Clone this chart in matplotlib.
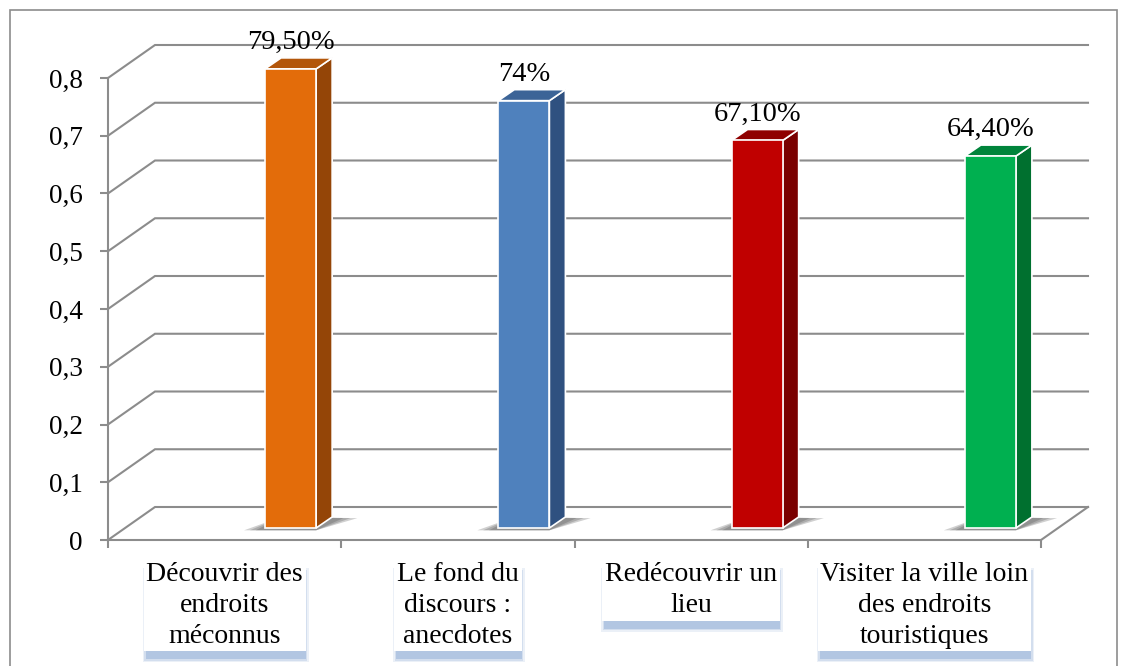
import matplotlib
matplotlib.use("Agg")
import matplotlib.pyplot as plt
from matplotlib.patches import Polygon, Rectangle

categories = ["Découvrir des\nendroits\nméconnus",
              "Le fond du\ndiscours :\nanecdotes",
              "Redécouvrir un\nlieu",
              "Visiter la ville loin\ndes endroits\ntouristiques"]
values = [0.795, 0.74, 0.671, 0.644]
value_labels = ["79,50%", "74%", "67,10%", "64,40%"]
front_colors = ["#E36C0A", "#4F81BD", "#C00000", "#00B050"]
side_colors = ["#944507", "#2F5180", "#7A0000", "#00702F"]
top_colors = ["#B3560A", "#3C6497", "#8F0000", "#00843B"]
yticks = [0, 0.1, 0.2, 0.3, 0.4, 0.5, 0.6, 0.7, 0.8]

plt.rcParams["font.family"] = ["Liberation Serif", "DejaVu Serif"]
grid_color = "#8c8c8c"

W, H = 1126, 666
fig = plt.figure(figsize=(W / 100, H / 100), dpi=100)
ax = fig.add_axes([108 / W, 126 / H, (1041 - 108) / W, 462 / H])
ax.set_xlim(0, 4)
ax.set_ylim(0, 0.8)
ax.patch.set_visible(False)

# pixel -> data scale factors
px_x = 4 / (1041 - 108)
px_y = 0.8 / 462
wall_dx, wall_dy = 47 * px_x, 33 * px_y      # depth of the floor / back wall
bar_dx, bar_dy = 17 * px_x, 12 * px_y        # bar front plane offset
side_dx, side_dy = 16 * px_x, 11 * px_y      # bar depth
bar_w = 0.219
bar_shift = 0.21

# back wall gridlines and left wall diagonals
for v in yticks:
    ax.plot([0, wall_dx, 4 + wall_dx], [v, v + wall_dy, v + wall_dy],
            color=grid_color, lw=1.5, clip_on=False, zorder=1,
            solid_joinstyle="miter")
ax.plot([4, 4 + wall_dx], [0, wall_dy], color=grid_color, lw=1.5,
        clip_on=False, zorder=1)

# bars with fake 3d sides
centers = [i + 0.5 + bar_shift + bar_dx for i in range(len(values))]
for i, v in enumerate(values):
    x0 = centers[i] - bar_w / 2
    x1 = centers[i] + bar_w / 2
    b = bar_dy
    # soft floor shadow, a few stacked layers
    for grow in [0.09, 0.065, 0.04]:
        shadow = Polygon([(x0 - grow, b - 0.004), (x1, b - 0.004),
                          (x1 + side_dx + grow * 1.2, b + side_dy - 0.002),
                          (x0 + side_dx, b + side_dy)],
                         closed=True, fc="#444444", ec="none", alpha=0.25,
                         zorder=2, clip_on=False)
        ax.add_patch(shadow)
    side = Polygon([(x1, b), (x1 + side_dx, b + side_dy),
                    (x1 + side_dx, b + v + side_dy), (x1, b + v)],
                   closed=True, fc=side_colors[i], ec="white", lw=1.2,
                   zorder=3, clip_on=False)
    top = Polygon([(x0, b + v), (x1, b + v), (x1 + side_dx, b + v + side_dy),
                   (x0 + side_dx, b + v + side_dy)],
                  closed=True, fc=top_colors[i], ec="white", lw=1.2,
                  zorder=3, clip_on=False)
    ax.add_patch(side)
    ax.add_patch(top)

ax.bar(centers, values, width=bar_w, bottom=bar_dy, color=front_colors,
       edgecolor="white", linewidth=1.2, zorder=4, clip_on=False)

for i, v in enumerate(values):
    ax.annotate(value_labels[i], (centers[i], v + bar_dy + side_dy),
                xytext=(0, 2), textcoords="offset points",
                ha="center", va="bottom", fontsize=20.5, zorder=5,
                annotation_clip=False)

# axes styling
for s in ["top", "right"]:
    ax.spines[s].set_visible(False)
for s in ["left", "bottom"]:
    ax.spines[s].set_color(grid_color)
    ax.spines[s].set_linewidth(1.5)
    ax.spines[s].set_zorder(1)
ax.set_yticks(yticks)
ax.set_yticklabels(["0" if t == 0 else f"{t:.1f}".replace(".", ",") for t in yticks])
ax.set_xticks(range(5))
ax.set_xticklabels([])
ax.tick_params(axis="both", direction="out", length=6, width=1.5,
               color=grid_color, labelsize=19.5)
ax.tick_params(axis="y", pad=12)

# category labels in white boxes
cat_texts = []
for i, c in enumerate(categories):
    t = ax.annotate(c, (i + 0.5, 0), xytext=(0, -16), textcoords="offset points",
                    ha="center", va="top", fontsize=20, color="black",
                    linespacing=1.3, annotation_clip=False, zorder=6,
                    bbox=dict(boxstyle="square,pad=0.1", fc="white", ec="none"))
    cat_texts.append(t)

# blurred blue shadow under each label box (drawn below the axes)
fig.canvas.draw()
for t in cat_texts:
    bb = t.get_bbox_patch().get_window_extent()
    for grow, a in [(3, 0.2), (1.5, 0.3), (0, 0.6)]:
        fig.patches.append(Rectangle(((bb.x0 + 2 - grow) / W, (bb.y0 - 8 - grow) / H),
                                     (bb.width - 2 + 2 * grow) / W,
                                     (bb.height - 4 + 2 * grow) / H,
                                     transform=fig.transFigure, fc="#9db7da",
                                     ec="none", alpha=a, zorder=-5))

# outer border
fig.patches.append(Rectangle((10 / W, -0.1), 1107 / W, 656 / H + 0.1,
                             transform=fig.transFigure, fill=False,
                             ec=grid_color, lw=1.2, zorder=-5))

fig.savefig("out.png", dpi=100)
